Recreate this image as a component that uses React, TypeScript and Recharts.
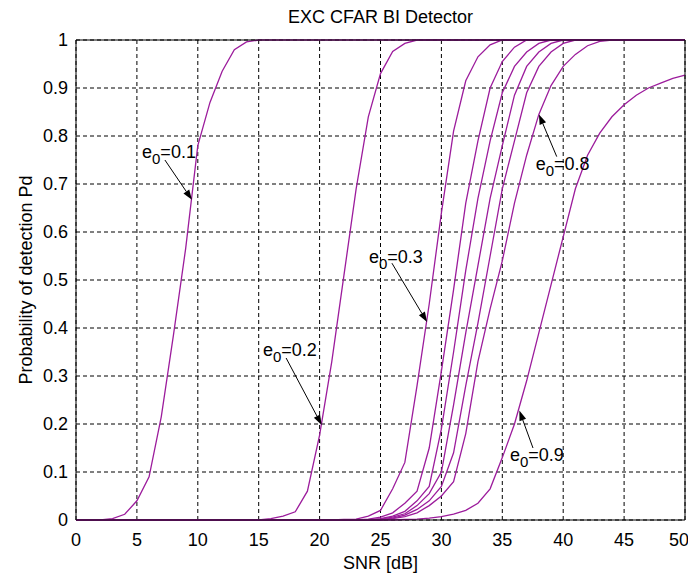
import React from "react"
import {
  LineChart,
  Line,
  XAxis,
  YAxis,
  CartesianGrid,
  ReferenceLine,
  ReferenceDot,
} from "recharts"

// SNR axis, 1 dB steps
const snr = [
  0, 1, 2, 3, 4, 5, 6, 7, 8, 9,
  10, 11, 12, 13, 14, 15, 16, 17, 18, 19,
  20, 21, 22, 23, 24, 25, 26, 27, 28, 29,
  30, 31, 32, 33, 34, 35, 36, 37, 38, 39,
  40, 41, 42, 43, 44, 45, 46, 47, 48, 49,
  50,
]

// Pd curves, e0 = 0.1 ... 0.9
const pd01 = [
  0, 0, 0, 0.003, 0.012, 0.04, 0.09, 0.215, 0.385, 0.565,
  0.78, 0.87, 0.935, 0.98, 0.996, 1, 1, 1, 1, 1,
  1, 1, 1, 1, 1, 1, 1, 1, 1, 1,
  1, 1, 1, 1, 1, 1, 1, 1, 1, 1,
  1, 1, 1, 1, 1, 1, 1, 1, 1, 1,
  1,
]
const pd02 = [
  0, 0, 0, 0, 0, 0, 0, 0, 0, 0,
  0, 0, 0, 0, 0, 0, 0.003, 0.008, 0.017, 0.06,
  0.177, 0.33, 0.51, 0.69, 0.84, 0.93, 0.976, 0.993, 1, 1,
  1, 1, 1, 1, 1, 1, 1, 1, 1, 1,
  1, 1, 1, 1, 1, 1, 1, 1, 1, 1,
  1,
]
const pd03 = [
  0, 0, 0, 0, 0, 0, 0, 0, 0, 0,
  0, 0, 0, 0, 0, 0, 0, 0, 0, 0,
  0, 0, 0.001, 0.002, 0.008, 0.02, 0.065, 0.12, 0.28, 0.45,
  0.64, 0.81, 0.915, 0.965, 0.99, 1, 1, 1, 1, 1,
  1, 1, 1, 1, 1, 1, 1, 1, 1, 1,
  1,
]
const pd04 = [
  0, 0, 0, 0, 0, 0, 0, 0, 0, 0,
  0, 0, 0, 0, 0, 0, 0, 0, 0, 0,
  0, 0, 0, 0, 0.002, 0.006, 0.015, 0.035, 0.06, 0.15,
  0.31, 0.48, 0.66, 0.79, 0.9, 0.955, 0.985, 1, 1, 1,
  1, 1, 1, 1, 1, 1, 1, 1, 1, 1,
  1,
]
const pd05 = [
  0, 0, 0, 0, 0, 0, 0, 0, 0, 0,
  0, 0, 0, 0, 0, 0, 0, 0, 0, 0,
  0, 0, 0, 0, 0, 0.003, 0.008, 0.018, 0.04, 0.07,
  0.19, 0.35, 0.52, 0.67, 0.79, 0.89, 0.945, 0.975, 0.993, 1,
  1, 1, 1, 1, 1, 1, 1, 1, 1, 1,
  1,
]
const pd06 = [
  0, 0, 0, 0, 0, 0, 0, 0, 0, 0,
  0, 0, 0, 0, 0, 0, 0, 0, 0, 0,
  0, 0, 0, 0, 0, 0.002, 0.006, 0.013, 0.03, 0.055,
  0.1, 0.24, 0.39, 0.53, 0.67, 0.78, 0.885, 0.945, 0.975, 0.993,
  1, 1, 1, 1, 1, 1, 1, 1, 1, 1,
  1,
]
const pd07 = [
  0, 0, 0, 0, 0, 0, 0, 0, 0, 0,
  0, 0, 0, 0, 0, 0, 0, 0, 0, 0,
  0, 0, 0, 0, 0, 0, 0.004, 0.01, 0.022, 0.04,
  0.07, 0.14, 0.28, 0.41, 0.55, 0.69, 0.79, 0.89, 0.945, 0.975,
  0.993, 1, 1, 1, 1, 1, 1, 1, 1, 1,
  1,
]
const pd08 = [
  0, 0, 0, 0, 0, 0, 0, 0, 0, 0,
  0, 0, 0, 0, 0, 0, 0, 0, 0, 0,
  0, 0, 0, 0, 0, 0, 0.003, 0.007, 0.015, 0.03,
  0.05, 0.08, 0.18, 0.33, 0.44, 0.54, 0.66, 0.76, 0.845, 0.905,
  0.945, 0.97, 0.988, 0.997, 1, 1, 1, 1, 1, 1,
  1,
]
const pd09 = [
  0, 0, 0, 0, 0, 0, 0, 0, 0, 0,
  0, 0, 0, 0, 0, 0, 0, 0, 0, 0,
  0, 0, 0, 0, 0, 0, 0, 0.001, 0.002, 0.004,
  0.007, 0.012, 0.02, 0.035, 0.065, 0.13, 0.2, 0.29, 0.39, 0.49,
  0.59, 0.69, 0.76, 0.806, 0.84, 0.865, 0.885, 0.9, 0.91, 0.92,
  0.927,
]

const xTicks = [0, 5, 10, 15, 20, 25, 30, 35, 40, 45, 50]
const yTicks = [0, 0.1, 0.2, 0.3, 0.4, 0.5, 0.6, 0.7, 0.8, 0.9, 1]
const yTickLabels = ["0", "0.1", "0.2", "0.3", "0.4", "0.5", "0.6", "0.7", "0.8", "0.9", "1"]

// arrow annotations (data coordinates)
const annoLabels = ["0.1", "0.2", "0.3", "0.8", "0.9"]
const annoTextAt = [[5.42, 0.767], [15.35, 0.354], [24.05, 0.548], [37.74, 0.742], [35.63, 0.135]]
const arrowFrom = [[7.3, 0.75], [17.25, 0.3375], [25.94, 0.535], [39.47, 0.757], [37.52, 0.15]]
const arrowTo = [[9.52, 0.667], [20.17, 0.198], [28.82, 0.4125], [38.01, 0.845], [36.4, 0.228]]

const series = [pd01, pd02, pd03, pd04, pd05, pd06, pd07, pd08, pd09]
const data = snr.map((x, i) => {
  const row: Record<string, number> = { snr: x }
  series.forEach((s, k) => { row["e" + (k + 1)] = s[i] })
  return row
})

const FONT = "'Liberation Sans', Arial, Helvetica, sans-serif"
const PURPLE = "#9c1c9c"

function Arrow(p: any) {
  const { x1, y1, x2, y2 } = p
  const ang = Math.atan2(y2 - y1, x2 - x1)
  const len = 10
  const hw = 3.5
  const bx = x2 - len * Math.cos(ang)
  const by = y2 - len * Math.sin(ang)
  const px = -Math.sin(ang) * hw
  const py = Math.cos(ang) * hw
  return (
    <g>
      <line x1={x1} y1={y1} x2={bx} y2={by} stroke="#000" strokeWidth={1} />
      <polygon points={`${x2},${y2} ${bx + px},${by + py} ${bx - px},${by - py}`} fill="#000" />
    </g>
  )
}

function AnnoText(label: string) {
  return (p: any) => (
    <text x={p.cx} y={p.cy} dy="0.32em" fontSize={18} fontFamily={FONT} fill="#000">
      e<tspan dy={6} fontSize={15}>0</tspan><tspan dy={-6}>={label}</tspan>
    </text>
  )
}

export default function App() {
  return (
    <div style={{ position: "relative", width: 680, height: 566, fontFamily: FONT, background: "#fff" }}>
      <LineChart width={680} height={566} data={data} margin={{ top: 32, right: 3, bottom: 0, left: 8 }}>
        <CartesianGrid stroke="#000" strokeDasharray="4 3" strokeWidth={1} />
        <XAxis
          dataKey="snr"
          type="number"
          domain={[0, 50]}
          ticks={xTicks}
          height={54}
          tickLine={false}
          tickSize={0}
          tickMargin={13}
          axisLine={{ stroke: "#000" }}
          tick={{ fontSize: 18, fill: "#000", fontFamily: FONT }}
          label={{ value: "SNR [dB]", position: "insideBottom", offset: 5, fontSize: 18, fill: "#000", fontFamily: FONT }}
        />
        <YAxis
          type="number"
          domain={[0, 1]}
          ticks={yTicks}
          width={60}
          tickLine={false}
          tickSize={0}
          tickMargin={8}
          interval={0}
          axisLine={{ stroke: "#000" }}
          tickFormatter={(v: number) => yTickLabels[yTicks.indexOf(v)] ?? String(v)}
          tick={{ fontSize: 18, fill: "#000", fontFamily: FONT }}
          label={{
            value: "Probability of detection Pd", angle: -90, position: "insideLeft", offset: 10,
            fontSize: 18, fill: "#000", fontFamily: FONT, style: { textAnchor: "middle" },
          }}
        />
        {series.map((_, k) => (
          <Line
            key={k}
            dataKey={"e" + (k + 1)}
            type="linear"
            stroke={PURPLE}
            strokeWidth={1.3}
            dot={false}
            isAnimationActive={false}
          />
        ))}
        <ReferenceLine y={1} stroke="#000" strokeWidth={1} />
        <ReferenceLine x={50} stroke="#000" strokeWidth={1} />
        {annoLabels.map((lab, i) => (
          <ReferenceLine
            key={"a" + i}
            segment={[{ x: arrowFrom[i][0], y: arrowFrom[i][1] }, { x: arrowTo[i][0], y: arrowTo[i][1] }]}
            shape={(p: any) => <Arrow {...p} />}
          />
        ))}
        {annoLabels.map((lab, i) => (
          <ReferenceDot
            key={"t" + i}
            x={annoTextAt[i][0]}
            y={annoTextAt[i][1]}
            shape={AnnoText(lab)}
          />
        ))}
      </LineChart>
      <div
        style={{
          position: "absolute", left: 68, top: -2, width: 609, textAlign: "center",
          fontSize: 18, lineHeight: "22px", color: "#000", zIndex: 10, pointerEvents: "none",
        }}
      >
        EXC CFAR BI Detector
      </div>
    </div>
  )
}
